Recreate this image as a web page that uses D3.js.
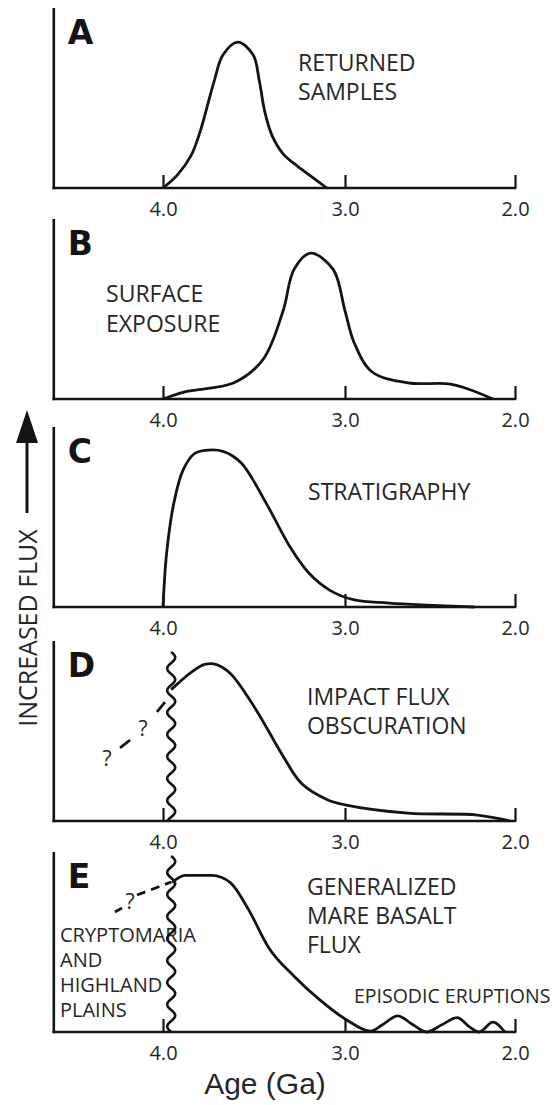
<!DOCTYPE html>
<html>
<head>
<meta charset="utf-8">
<script src="https://cdn.jsdelivr.net/npm/d3@7"></script>
<style>
  html, body { margin: 0; padding: 0; background: #fff; }
  svg { display: block; }
  .note { font-family: "Open Sans", sans-serif; fill: #262626; }
  .tick text { font-family: "Open Sans", sans-serif; fill: #262626; }
</style>
</head>
<body>
<svg id="chart" width="556" height="1105"></svg>
<script>
// ---- data: relative flux versus age (Ga) for each panel ----
const tickAges = [4.0, 3.0, 2.0];
const tickLabels = ["4.0", "3.0", "2.0"];
const ageOldest = 4.6;   // left end of every age axis
const ageYoungest = 2.0; // right end of every age axis

const panelLetters = ["A", "B", "C", "D", "E"];

const agesA = [4.00, 3.923, 3.846, 3.797, 3.72, 3.67, 3.588, 3.505, 3.47, 3.44, 3.40, 3.34, 3.26, 3.18, 3.10];
const fluxA = [0, 0.07, 0.18, 0.31, 0.59, 0.74, 0.81, 0.74, 0.59, 0.42, 0.29, 0.19, 0.12, 0.06, 0];

const agesB = [4.00, 3.88, 3.61, 3.45, 3.34, 3.28, 3.19, 3.065, 3.00, 2.945, 2.84, 2.63, 2.38, 2.26, 2.13];
const fluxB = [0, 0.04, 0.09, 0.22, 0.49, 0.72, 0.81, 0.72, 0.49, 0.31, 0.15, 0.09, 0.083, 0.05, 0];

const agesC = [4.00, 3.98, 3.94, 3.89, 3.83, 3.77, 3.67, 3.57, 3.435, 3.30, 3.20, 3.085, 2.945, 2.74, 2.24];
const fluxC = [0, 0.30, 0.58, 0.76, 0.85, 0.87, 0.865, 0.80, 0.58, 0.33, 0.19, 0.094, 0.039, 0.022, 0];

const agesD = [3.955, 3.84, 3.77, 3.71, 3.63, 3.49, 3.34, 3.24, 3.10, 3.00, 2.63, 2.22, 2.03];
const fluxD = [0.73, 0.83, 0.87, 0.87, 0.82, 0.62, 0.36, 0.21, 0.12, 0.09, 0.044, 0.033, 0];

const agesE = [3.95, 3.88, 3.73, 3.63, 3.53, 3.42, 3.28, 3.14, 2.99, 2.85, 2.78, 2.69, 2.60, 2.52, 2.43, 2.34, 2.27, 2.21, 2.13, 2.06];
const fluxE = [0.83, 0.87, 0.87, 0.83, 0.68, 0.47, 0.31, 0.18, 0.067, 0.005, 0.04, 0.09, 0.04, 0, 0.04, 0.08, 0.03, 0, 0.055, 0];

// unconformity (wavy line) age for panels D and E
const unconformityAge = 3.955;

// uncertain early flux: dash segments and question marks, [age, flux]
const guessDashesD = [[[4.236, 0.406], [4.181, 0.45]], [[4.033, 0.606], [3.989, 0.661]]];
const guessMarksD = [[4.308, 0.35], [4.11, 0.517]];
const guessDashesE = [[[4.264, 0.667], [4.225, 0.689]], [[4.143, 0.761], [3.955, 0.833]]];
const guessMarksE = [[4.181, 0.728]];

// annotation text per panel: [lines], anchor [age, flux] of first line
const notes = [
  [{ lines: ["RETURNED", "SAMPLES"], at: [3.258, 0.65], size: 23, lead: 29 }],
  [{ lines: ["SURFACE", "EXPOSURE"], at: [4.313, 0.539], size: 23, lead: 30 }],
  [{ lines: ["STRATIGRAPHY"], at: [3.203, 0.594], size: 23, lead: 29 }],
  [{ lines: ["IMPACT FLUX", "OBSCURATION"], at: [3.209, 0.647], size: 23, lead: 29 }],
  [
    { lines: ["GENERALIZED", "MARE BASALT", "FLUX"], at: [3.209, 0.761], size: 23, lead: 29 },
    { lines: ["CRYPTOMARIA", "AND", "HIGHLAND", "PLAINS"], at: [4.566, 0.5], size: 20, lead: 25 },
    { lines: ["EPISODIC ERUPTIONS"], at: [2.947, 0.161], size: 19.5, lead: 25 }
  ]
];

const seriesAges = [agesA, agesB, agesC, agesD, agesE];
const seriesFlux = [fluxA, fluxB, fluxC, fluxD, fluxE];

// ---- layout ----
const svg = d3.select("#chart");
const baselines = [188, 399, 607, 821, 1032];
const panelHeight = 180;
const ink = "#141414";

const x = d3.scaleLinear().domain([4.0, 3.0, 2.0]).range([163, 345, 515]);

baselines.forEach((base, i) => {
  const g = svg.append("g");
  const y = d3.scaleLinear().domain([0, 1]).range([base, base - panelHeight]);
  const x0 = x(ageOldest), x1 = x(ageYoungest);

  // vertical axis and horizontal age axis
  g.append("line").attr("x1", x0).attr("x2", x0).attr("y1", y(1)).attr("y2", y(0) + 1.2)
    .attr("stroke", ink).attr("stroke-width", 2.6);
  g.append("line").attr("x1", x0 - 1.3).attr("x2", x1 + 1.3).attr("y1", y(0)).attr("y2", y(0))
    .attr("stroke", ink).attr("stroke-width", 2.6);

  const axis = d3.axisBottom(x).tickValues(tickAges)
    .tickFormat((d, k) => tickLabels[k]).tickSizeInner(-13).tickSizeOuter(0).tickPadding(14);
  const ag = g.append("g").attr("transform", `translate(0,${base})`).call(axis);
  ag.select(".domain").remove();
  ag.selectAll(".tick line").attr("stroke", ink).attr("stroke-width", 2.2);
  ag.selectAll(".tick text").attr("font-size", 20).attr("fill", "#262626");

  // panel letter
  g.append("text").attr("x", x0 + 14).attr("y", base - 144)
    .attr("font-family", "DejaVu Sans, sans-serif").attr("font-weight", "bold")
    .attr("font-size", 33).attr("fill", ink).text(panelLetters[i]);

  // flux curve
  const pts = seriesAges[i].map((a, k) => [a, seriesFlux[i][k]]);
  const curve = i === 4 ? d3.curveMonotoneX : d3.curveCatmullRom.alpha(0.5);
  const line = d3.line().x(d => x(d[0])).y(d => y(d[1])).curve(curve);
  g.append("path").attr("d", line(pts)).attr("fill", "none")
    .attr("stroke", ink).attr("stroke-width", 2.8).attr("stroke-linejoin", "round");

  // annotation text
  notes[i].forEach(n => {
    const t = g.append("text").attr("class", "note").attr("font-size", n.size);
    n.lines.forEach((ln, k) => {
      t.append("tspan").attr("x", x(n.at[0])).attr("y", y(n.at[1]) + k * n.lead).text(ln);
    });
  });

  // unconformity and speculative early flux in D and E
  if (i >= 3) {
    const ux = x(unconformityAge);
    const top = y(1) + (i === 3 ? 11 : 4);
    const amp = 4, period = 22;
    const wave = d3.range(top, y(0) + 0.5, 1).map(yy => [ux + amp * Math.sin((yy - top) / period * 2 * Math.PI), yy]);
    g.append("path").attr("d", d3.line()(wave)).attr("fill", "none")
      .attr("stroke", ink).attr("stroke-width", 2.6);

    const dashes = i === 3 ? guessDashesD : guessDashesE;
    const marks = i === 3 ? guessMarksD : guessMarksE;
    dashes.forEach(seg => {
      g.append("path").attr("d", d3.line().x(d => x(d[0])).y(d => y(d[1]))(seg))
        .attr("fill", "none").attr("stroke", ink).attr("stroke-width", 2.8)
        .attr("stroke-dasharray", i === 4 && seg === dashes[1] ? "9,6" : null);
    });
    marks.forEach(m => {
      g.append("text").attr("class", "note").attr("x", x(m[0])).attr("y", y(m[1]) + 8)
        .attr("text-anchor", "middle").attr("font-size", 21).text("?");
    });
  }
});

// vertical "increased flux" indicator
svg.append("path").attr("d", "M27,410 L38,443 L16,443 Z").attr("fill", ink);
svg.append("line").attr("x1", 27).attr("x2", 27).attr("y1", 440).attr("y2", 513)
  .attr("stroke", ink).attr("stroke-width", 3);
svg.append("text").attr("class", "note").attr("font-size", 25)
  .attr("text-anchor", "middle").attr("transform", "translate(37,628) rotate(-90)")
  .text("INCREASED FLUX");

// age axis title
svg.append("text").attr("x", 265).attr("y", 1094).attr("text-anchor", "middle")
  .attr("font-family", "Liberation Sans, Arial, sans-serif").attr("font-size", 30)
  .attr("fill", "#262626").text("Age (Ga)");
</script>
</body>
</html>
